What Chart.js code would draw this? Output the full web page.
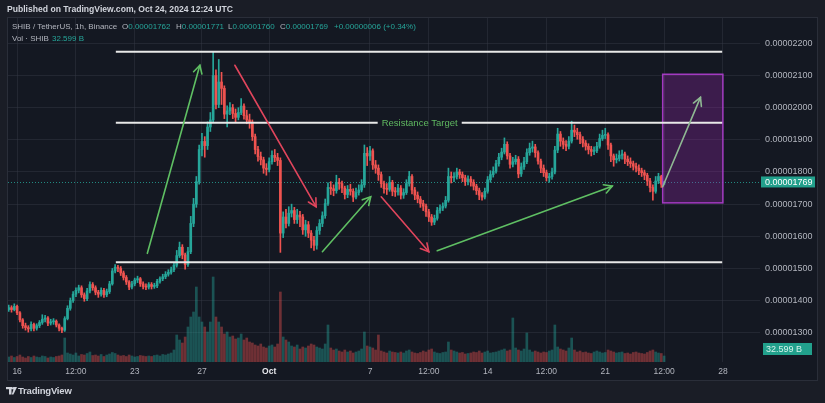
<!DOCTYPE html>
<html><head><meta charset="utf-8">
<script src="https://cdn.jsdelivr.net/npm/chart.js@4.4.1/dist/chart.umd.min.js"></script>
<style>
html,body{margin:0;padding:0;background:#1a1d26;width:825px;height:403px;overflow:hidden;font-family:"Liberation Sans",Arial,sans-serif;}
#wrap{position:relative;width:825px;height:403px;}
canvas{position:absolute;left:0;top:0;}
.t{position:absolute;white-space:nowrap;line-height:1;}
.g{color:#b2b5be}
.v{color:#26a69a}
</style></head><body>
<div id="wrap">
<canvas id="c" width="825" height="403"></canvas>
<div class="t" style="left:7px;top:5px;font-size:8.6px;font-weight:bold;color:#d1d4dc">Published on TradingView.com, Oct 24, 2024 12:24 UTC</div>
<div class="t g" style="left:12px;top:23px;font-size:8px">SHIB / TetherUS, 1h, Binance</div>
<div class="t" style="left:122px;top:23px;font-size:8px"><span class="g">O</span><span class="v">0.00001762</span></div>
<div class="t" style="left:176px;top:23px;font-size:8px"><span class="g">H</span><span class="v">0.00001771</span></div>
<div class="t" style="left:228px;top:23px;font-size:8px"><span class="g">L</span><span class="v">0.00001760</span></div>
<div class="t" style="left:280px;top:23px;font-size:8px"><span class="g">C</span><span class="v">0.00001769</span></div>
<div class="t v" style="left:334px;top:23px;font-size:8px">+0.00000006 (+0.34%)</div>
<div class="t g" style="left:12px;top:35px;font-size:8px">Vol · SHIB</div>
<div class="t v" style="left:52px;top:35px;font-size:8px">32.599 B</div>
<div class="t" style="left:18px;top:386px;font-size:9.5px;font-weight:bold;color:#d1d4dc;letter-spacing:-0.2px">TradingView</div>
</div>
<script>
// ---- time axis (hours after 16 Sep 2024 00:00 UTC) ----
const xTickHours  = [0, 84, 168, 264, 360, 504, 588, 672, 756, 840, 924, 1008];
const xTickLabels = ['16', '12:00', '23', '27', 'Oct', '7', '12:00', '14', '12:00', '21', '12:00', '28'];
const priceTicks  = [1300, 1400, 1500, 1600, 1700, 1800, 1900, 2000, 2100, 2200]; // x 1e-8 USDT

// ---- candles (4h aggregated, prices in 1e-8 USDT) ----
const candleStartHour = -12;   // 15 Sep 12:00
const candleStepHours = 4;
const openP = [
1372,1378,1372,1382,1362,1340,1322,1316,1312,1326,
1314,1322,1332,1342,1346,1330,1334,1336,1324,1314,
1308,1344,1376,1400,1420,1432,1440,1418,1406,1430,
1450,1440,1426,1420,1432,1418,1428,1452,1492,1504,
1500,1486,1472,1458,1442,1452,1464,1468,1452,1444,
1442,1450,1444,1446,1460,1468,1474,1482,1488,1496,
1510,1540,1566,1542,1512,1552,1640,1700,1770,1870,
1895,1882,1940,1962,2100,2010,2080,2060,1980,1990,
2000,1982,1970,1985,2005,1975,1962,1955,1910,1870,
1848,1838,1812,1808,1832,1852,1845,1836,1610,1660,
1640,1672,1680,1652,1666,1660,1620,1636,1610,1588,
1572,1618,1640,1664,1702,1752,1748,1742,1768,1764,
1750,1730,1746,1740,1722,1736,1744,1760,1858,1850,
1866,1822,1812,1792,1764,1748,1746,1768,1740,1738,
1750,1728,1736,1764,1786,1744,1728,1716,1702,1694,
1676,1660,1644,1656,1680,1688,1694,1712,1786,1782,
1786,1800,1792,1782,1770,1778,1768,1756,1742,1728,
1722,1740,1776,1792,1802,1826,1846,1862,1886,1850,
1824,1832,1840,1794,1816,1832,1860,1874,1878,1860,
1834,1812,1798,1782,1786,1800,1868,1918,1896,1886,
1880,1896,1930,1924,1916,1902,1890,1880,1870,1864,
1866,1880,1904,1914,1916,1884,1850,1838,1842,1852,
1856,1840,1832,1826,1818,1812,1804,1798,1790,1772,
1752,1740,1772,1786,1762];
const highP = [
1386,1384,1390,1386,1366,1344,1330,1322,1334,1330,
1328,1338,1356,1354,1350,1342,1344,1340,1328,1318,
1350,1384,1408,1428,1440,1448,1446,1424,1438,1458,
1456,1446,1432,1440,1438,1436,1460,1500,1512,1510,
1506,1492,1478,1462,1460,1470,1476,1472,1458,1452,
1456,1456,1454,1466,1474,1482,1490,1496,1504,1518,
1556,1582,1574,1548,1566,1662,1718,1786,1884,1920,
1910,1956,1985,2172,2118,2150,2110,2068,2006,2016,
2010,1996,2000,2028,2012,1992,1980,1962,1918,1880,
1862,1846,1826,1844,1866,1870,1858,1844,1676,1684,
1692,1700,1690,1684,1678,1668,1650,1646,1618,1600,
1630,1652,1676,1716,1766,1770,1760,1790,1780,1772,
1756,1758,1762,1748,1750,1760,1776,1884,1876,1880,
1872,1836,1822,1800,1772,1764,1786,1774,1752,1762,
1758,1748,1776,1802,1792,1752,1738,1724,1712,1700,
1684,1668,1666,1690,1698,1704,1724,1812,1800,1798,
1812,1808,1800,1790,1788,1786,1776,1762,1750,1736,
1750,1786,1804,1816,1836,1858,1874,1906,1894,1858,
1846,1852,1848,1828,1846,1872,1890,1896,1886,1866,
1840,1822,1806,1796,1812,1880,1936,1926,1906,1898,
1910,1958,1946,1936,1924,1910,1898,1888,1880,1878,
1892,1918,1930,1936,1922,1890,1856,1856,1866,1868,
1862,1850,1844,1834,1828,1822,1812,1806,1796,1780,
1760,1786,1796,1790,1771];
const lowP = [
1366,1364,1368,1356,1334,1314,1308,1302,1306,1306,
1308,1316,1326,1334,1322,1324,1326,1318,1306,1300,
1304,1340,1370,1394,1412,1424,1410,1398,1400,1424,
1432,1418,1410,1414,1410,1412,1422,1448,1486,1490,
1478,1464,1450,1434,1436,1446,1456,1444,1436,1434,
1436,1436,1438,1440,1454,1462,1468,1476,1482,1490,
1504,1534,1530,1498,1506,1546,1630,1690,1762,1850,
1846,1870,1926,1955,1996,2000,2010,1966,1940,1978,
1966,1956,1962,1978,1964,1950,1936,1898,1856,1834,
1822,1796,1790,1800,1824,1832,1820,1550,1596,1626,
1632,1660,1640,1640,1630,1606,1600,1596,1564,1556,
1560,1606,1630,1656,1696,1730,1726,1734,1746,1736,
1716,1720,1728,1708,1716,1728,1738,1752,1820,1836,
1808,1796,1774,1752,1734,1730,1740,1726,1724,1728,
1716,1718,1730,1756,1732,1714,1704,1690,1680,1662,
1646,1634,1636,1650,1672,1680,1688,1706,1766,1770,
1778,1780,1770,1758,1760,1756,1744,1730,1714,1712,
1716,1734,1768,1784,1796,1818,1838,1856,1840,1812,
1816,1824,1782,1786,1808,1826,1852,1862,1846,1824,
1798,1786,1772,1768,1778,1794,1860,1880,1872,1866,
1872,1890,1910,1902,1888,1878,1868,1856,1850,1854,
1860,1874,1898,1904,1870,1832,1818,1828,1834,1840,
1826,1820,1814,1806,1800,1792,1786,1776,1758,1738,
1712,1734,1764,1752,1760];
const closeP = [
1378,1372,1382,1362,1340,1322,1316,1312,1326,1314,
1322,1332,1342,1346,1330,1334,1336,1324,1314,1308,
1344,1376,1400,1420,1432,1440,1418,1406,1430,1450,
1440,1426,1420,1432,1418,1428,1452,1492,1504,1500,
1486,1472,1458,1442,1452,1464,1468,1452,1444,1442,
1450,1444,1446,1460,1468,1474,1482,1488,1496,1510,
1540,1566,1542,1512,1552,1640,1700,1770,1870,1895,
1882,1940,1962,2100,2010,2080,2060,1980,1990,2000,
1982,1970,1985,2005,1975,1962,1955,1910,1870,1848,
1838,1812,1808,1832,1852,1845,1836,1610,1660,1640,
1672,1680,1652,1666,1660,1620,1636,1610,1588,1572,
1618,1640,1664,1702,1752,1748,1742,1768,1764,1750,
1730,1746,1740,1722,1736,1744,1760,1858,1850,1866,
1822,1812,1792,1764,1748,1746,1768,1740,1738,1750,
1728,1736,1764,1786,1744,1728,1716,1702,1694,1676,
1660,1644,1656,1680,1688,1694,1712,1786,1782,1786,
1800,1792,1782,1770,1778,1768,1756,1742,1728,1722,
1740,1776,1792,1802,1826,1846,1862,1886,1850,1824,
1832,1840,1794,1816,1832,1860,1874,1878,1860,1834,
1812,1798,1782,1786,1800,1868,1918,1896,1886,1880,
1896,1930,1924,1916,1902,1890,1880,1870,1864,1866,
1880,1904,1914,1916,1884,1850,1838,1842,1852,1856,
1840,1832,1826,1818,1812,1804,1798,1790,1772,1752,
1740,1772,1786,1762,1769];
// volume per candle, billions of SHIB
const volumeB = [
50,60,45,55,70,50,40,55,45,60,
50,45,60,55,40,50,45,55,60,70,
240,90,80,70,90,60,75,70,85,100,
65,70,60,75,55,70,80,95,85,70,
60,65,55,70,60,50,55,65,60,55,
60,55,65,70,60,75,70,80,90,120,
270,220,190,250,350,450,500,750,450,400,
350,300,400,850,450,400,350,280,300,250,
260,230,240,280,220,240,200,190,170,160,
180,150,140,160,170,150,180,700,250,220,
200,160,150,170,130,150,140,160,180,170,
150,140,130,180,370,140,120,130,110,100,
120,100,110,90,100,110,130,300,160,150,
140,120,270,110,100,90,110,100,95,90,
100,90,110,120,100,90,85,95,110,100,
120,130,100,90,85,95,100,200,120,110,
100,90,95,80,85,90,100,95,110,90,
100,110,90,95,100,110,120,130,110,120,
440,140,120,110,130,290,120,100,110,100,
90,100,95,110,120,370,150,130,120,110,
140,240,120,100,110,95,100,90,85,100,
110,100,90,95,120,110,100,90,95,100,
85,90,80,95,100,90,85,80,95,110,
120,100,90,85,60];
const lastPrice = 1769;

// ---- drawings (hour, price) ----
const levelName  = ['', 'Resistance Target', ''];
const levelPrice = [2174, 1953, 1519];
const levelFrom  = [141, 141, 141];
const levelTo    = [1007, 1007, 1007];
const levelLabelHour = 575;

const arrowFromHour  = [186, 311, 436, 520, 600, 922];
const arrowFromPrice = [1547, 2132, 1552, 1723, 1555, 1754];
const arrowToHour    = [261, 427, 505, 588, 850, 976];
const arrowToPrice   = [2132, 1692, 1723, 1552, 1756, 2032];
const arrowColor     = ['#5fbf63', '#e0455c', '#5fbf63', '#e0455c', '#5fbf63', '#8fb893'];

const boxHours  = [922, 1008];
const boxPrices = [2104, 1704];

// ---- build datasets ----
const candleHours = closeP.map((_, i) => candleStartHour + i * candleStepHours);
const UP = '#26a69a', DN = '#ef5350';
const isUp = closeP.map((c, i) => c >= openP[i]);
const solid = isUp.map(u => u ? UP : DN);
const faded = isUp.map(u => u ? 'rgba(38,166,154,0.42)' : 'rgba(239,83,80,0.42)');

const volDs = { type:'bar', yAxisID:'yv', order:3, grouped:false, barThickness:2,
  data: volumeB.map((v,i)=>({x:candleHours[i], y:v})), backgroundColor: faded };
const wickDs = { type:'bar', yAxisID:'y', order:2, grouped:false, barThickness:1,
  data: highP.map((h,i)=>({x:candleHours[i], y:[lowP[i], h]})), backgroundColor: solid };
const bodyDs = { type:'bar', yAxisID:'y', order:1, grouped:false, barThickness:2, minBarLength:1,
  data: openP.map((o,i)=>({x:candleHours[i], y:[o, closeP[i]]})), backgroundColor: solid };

function arrow(g, x1, y1, x2, y2, col) {
  g.strokeStyle = col; g.lineWidth = 1.6; g.lineCap = 'round';
  g.beginPath(); g.moveTo(x1, y1); g.lineTo(x2, y2); g.stroke();
  const a = Math.atan2(y2 - y1, x2 - x1), L = 9, w = 0.5;
  g.beginPath();
  g.moveTo(x2 - L * Math.cos(a - w), y2 - L * Math.sin(a - w));
  g.lineTo(x2, y2);
  g.lineTo(x2 - L * Math.cos(a + w), y2 - L * Math.sin(a + w));
  g.stroke();
}

const annot = {
  id: 'annot',
  beforeDraw(c) {
    const g = c.ctx; g.save();
    g.fillStyle = '#1a1d26'; g.fillRect(0, 0, c.width, c.height);
    g.fillStyle = '#141822'; g.fillRect(7, 17, 810, 363);
    g.strokeStyle = '#2a2e39'; g.lineWidth = 1; g.strokeRect(7.5, 17.5, 810, 363);
    // TradingView logo mark
    g.fillStyle = '#d1d4dc';
    g.fillRect(6, 387, 6, 2.2); g.fillRect(9, 387, 2.5, 7.5);
    g.beginPath(); g.arc(13.2, 388.2, 1.2, 0, Math.PI * 2); g.fill();
    g.beginPath(); g.moveTo(14.2, 387); g.lineTo(17, 387); g.lineTo(13.4, 394.5); g.lineTo(11.8, 394.5); g.closePath(); g.fill();
    g.restore();
  },
  beforeDatasetsDraw(c) {
    const g = c.ctx, y = c.scales.y, a = c.chartArea;
    g.save();
    const yl = Math.round(y.getPixelForValue(lastPrice)) + 0.5;
    g.strokeStyle = 'rgba(38,166,154,0.8)'; g.setLineDash([1, 2]); g.lineWidth = 1;
    g.beginPath(); g.moveTo(a.left, yl); g.lineTo(a.right, yl); g.stroke();
    g.restore();
  },
  afterDatasetsDraw(c) {
    const g = c.ctx, x = c.scales.x, y = c.scales.y;
    g.save();
    const bx1 = x.getPixelForValue(boxHours[0]), bx2 = x.getPixelForValue(boxHours[1]);
    const by1 = y.getPixelForValue(boxPrices[0]), by2 = y.getPixelForValue(boxPrices[1]);
    g.fillStyle = 'rgba(156,39,176,0.30)'; g.fillRect(bx1, by1, bx2 - bx1, by2 - by1);
    g.strokeStyle = 'rgba(170,60,200,0.95)'; g.lineWidth = 1.5; g.strokeRect(bx1, by1, bx2 - bx1, by2 - by1);
    g.font = '9.5px "Liberation Sans", Arial, sans-serif';
    g.textBaseline = 'middle'; g.textAlign = 'center';
    levelPrice.forEach((p, i) => {
      const yy = y.getPixelForValue(p);
      const x1 = x.getPixelForValue(levelFrom[i]), x2 = x.getPixelForValue(levelTo[i]);
      g.strokeStyle = '#e8e8e8'; g.lineWidth = 2;
      if (levelName[i]) {
        const cx = x.getPixelForValue(levelLabelHour);
        const half = g.measureText(levelName[i]).width / 2 + 4;
        g.beginPath(); g.moveTo(x1, yy); g.lineTo(cx - half, yy); g.moveTo(cx + half, yy); g.lineTo(x2, yy); g.stroke();
        g.fillStyle = '#5fb860'; g.fillText(levelName[i], cx, yy + 0.5);
      } else {
        g.beginPath(); g.moveTo(x1, yy); g.lineTo(x2, yy); g.stroke();
      }
    });
    arrowFromHour.forEach((h, i) => {
      arrow(g, x.getPixelForValue(h), y.getPixelForValue(arrowFromPrice[i]),
               x.getPixelForValue(arrowToHour[i]), y.getPixelForValue(arrowToPrice[i]), arrowColor[i]);
    });
    g.restore();
  },
  afterDraw(c) {
    const g = c.ctx, y = c.scales.y, a = c.chartArea;
    g.save();
    const yl = y.getPixelForValue(lastPrice);
    g.fillStyle = '#22a08c'; g.fillRect(a.right + 1, yl - 5.5, 54, 11);
    g.fillStyle = '#ffffff'; g.font = '9px "Liberation Sans", Arial, sans-serif';
    g.textBaseline = 'middle'; g.textAlign = 'left';
    g.fillText((lastPrice / 1e8).toFixed(8), a.right + 5, yl + 0.5);
    g.fillStyle = '#22a08c'; g.fillRect(a.right + 3, 343, 49, 12);
    g.fillStyle = '#d6f2ec'; g.fillText('32.599 B', a.right + 6, 349.5);
    g.restore();
  }
};

new Chart(document.getElementById('c'), {
  type: 'bar',
  data: { datasets: [volDs, wickDs, bodyDs] },
  options: {
    responsive: false, animation: false, devicePixelRatio: 1,
    layout: { padding: { left: 8, right: 8, top: 18, bottom: 23 } },
    plugins: { legend: { display: false }, tooltip: { enabled: false } },
    scales: {
      x: {
        type: 'linear', min: -13, max: 1061, offset: false,
        grid: { color: 'rgba(54,58,70,0.45)', drawTicks: false, offset: false },
        border: { display: false },
        afterBuildTicks: s => { s.ticks = xTickHours.map(v => ({ value: v })); },
        afterFit: s => { s.height = 18; },
        ticks: {
          autoSkip: false, maxRotation: 0, padding: 5,
          callback: (v, i) => xTickLabels[i],
          color: ctx => xTickLabels[ctx.index] === 'Oct' ? '#e8e9ee' : '#b2b5be',
          font: ctx => ({ size: 8.5, family: '"Liberation Sans", Arial, sans-serif', weight: xTickLabels[ctx.index] === 'Oct' ? 'bold' : 'normal' })
        }
      },
      y: {
        position: 'right', min: 1209, max: 2279,
        grid: { color: 'rgba(54,58,70,0.45)', drawTicks: false },
        border: { display: false },
        afterBuildTicks: s => { s.ticks = priceTicks.map(v => ({ value: v })); },
        afterFit: s => { s.width = 57; },
        ticks: { padding: 5, color: '#b2b5be', font: { size: 9, family: '"Liberation Sans", Arial, sans-serif' },
                 callback: v => (v / 1e8).toFixed(8) }
      },
      yv: { display: false, min: 0, max: 3440 }
    }
  },
  plugins: [annot]
});
</script>
</body></html>
